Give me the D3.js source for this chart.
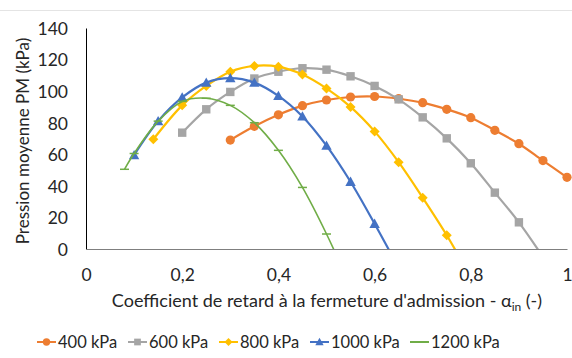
<!DOCTYPE html>
<html>
<head>
<meta charset="utf-8">
<script src="https://cdn.jsdelivr.net/npm/d3@7"></script>
<style>
  body { margin: 0; background: #fff; }
  text { font-family: Lato, "Open Sans", sans-serif; fill: #262626; }
</style>
</head>
<body>
<svg id="chart" width="572" height="358"></svg>
<script>
// valeurs (alpha_in, PM en kPa)
const x400 = [0.3, 0.35, 0.4, 0.45, 0.5, 0.55, 0.6, 0.65, 0.7, 0.75, 0.8, 0.85, 0.9, 0.95, 1.0];
const pm400 = [69, 77.7, 85, 90.8, 94.4, 96.3, 96.6, 95.2, 92.7, 88.5, 83.2, 75.2, 66.7, 56, 45.4];

const x600 = [0.2, 0.25, 0.3, 0.35, 0.4, 0.45, 0.5, 0.55, 0.6, 0.65, 0.7, 0.75, 0.8, 0.85, 0.9, 0.95];
const pm600 = [73.7, 88.5, 99.5, 108, 112.3, 114.5, 113.6, 109.4, 103.3, 94.8, 83.4, 70.1, 54.3, 35.7, 16.9, -5];

const x800 = [0.14, 0.2, 0.25, 0.3, 0.35, 0.4, 0.45, 0.5, 0.55, 0.6, 0.65, 0.7, 0.75, 0.8];
const pm800 = [69.5, 91, 103.3, 112.3, 116, 115.5, 110.5, 101.7, 90, 74.5, 55, 32.5, 8.7, -18];

const x1000 = [0.1, 0.15, 0.2, 0.25, 0.3, 0.35, 0.4, 0.45, 0.5, 0.55, 0.6, 0.65];
const pm1000 = [59.5, 81, 96, 105.4, 108.2, 105.4, 97, 84, 65.5, 42.6, 16, -12];

const x1200 = [0.08, 0.1, 0.15, 0.2, 0.25, 0.3, 0.35, 0.4, 0.45, 0.5, 0.55];
const pm1200 = [50.5, 60.5, 81, 93.5, 95.5, 91, 80, 62.5, 39, 9.5, -24];

const xTicks = [0, 0.2, 0.4, 0.6, 0.8, 1];
const yTicks = [0, 20, 40, 60, 80, 100, 120, 140];

const series = [
  { name: "400 kPa", xs: x400, ys: pm400, color: "#ED7D31", marker: "circle" },
  { name: "600 kPa", xs: x600, ys: pm600, color: "#A5A5A5", marker: "square" },
  { name: "800 kPa", xs: x800, ys: pm800, color: "#FFC000", marker: "diamond" },
  { name: "1000 kPa", xs: x1000, ys: pm1000, color: "#4472C4", marker: "triangle" },
  { name: "1200 kPa", xs: x1200, ys: pm1200, color: "#70AD47", marker: "dash" }
];

const svg = d3.select("#chart");
const x = d3.scaleLinear().domain([0, 1]).range([86, 567]);
const y = d3.scaleLinear().domain([0, 140]).range([249, 28]);

// trait gris en haut
svg.append("line").attr("x1", 0).attr("x2", 572).attr("y1", 10.5).attr("y2", 10.5)
  .attr("stroke", "#e4e4e4").attr("stroke-width", 1);

svg.append("clipPath").attr("id", "plotclip")
  .append("rect").attr("x", 0).attr("y", 0).attr("width", 572).attr("height", y(0));

// axes
const yAxis = svg.append("g").attr("transform", `translate(${x(0)},0)`)
  .call(d3.axisLeft(y).tickValues(yTicks).tickSize(0).tickPadding(18));
yAxis.select(".domain").attr("stroke", "#000").attr("stroke-width", 1);
yAxis.selectAll("text").style("font-size", "17.5px").attr("dy", "0.36em");

const xAxis = svg.append("g").attr("transform", `translate(0,${y(0)})`)
  .call(d3.axisBottom(x).tickValues(xTicks).tickSize(0).tickPadding(20)
    .tickFormat(d => String(d).replace(".", ",")));
xAxis.select(".domain").attr("stroke", "#7f7f7f").attr("stroke-width", 1.2);
xAxis.selectAll("text").style("font-size", "17.5px").attr("dy", "0.71em");
svg.selectAll(".tick text").style("fill", "#262626");

// courbes
const line = d3.line().x(d => x(d[0])).y(d => y(d[1])).curve(d3.curveCatmullRom.alpha(0.5));

function drawMarker(g, type, color, cx, cy, s) {
  if (type === "circle") {
    g.append("circle").attr("cx", cx).attr("cy", cy).attr("r", 4.6 * s).attr("fill", color);
  } else if (type === "square") {
    g.append("rect").attr("x", cx - 4.2 * s).attr("y", cy - 4.2 * s)
      .attr("width", 8.4 * s).attr("height", 8.4 * s).attr("fill", color);
  } else if (type === "diamond") {
    const r = 5 * s;
    g.append("path").attr("d", `M${cx},${cy - r}L${cx + r},${cy}L${cx},${cy + r}L${cx - r},${cy}Z`).attr("fill", color);
  } else if (type === "triangle") {
    const r = 5.2 * s;
    g.append("path").attr("d", `M${cx},${cy - r}L${cx + r},${cy + r * 0.8}L${cx - r},${cy + r * 0.8}Z`).attr("fill", color);
  } else if (type === "dash") {
    g.append("line").attr("x1", cx - 4.5 * s).attr("x2", cx + 4.5 * s).attr("y1", cy).attr("y2", cy)
      .attr("stroke", color).attr("stroke-width", 1.5);
  }
}

series.forEach(s => {
  const pts = s.xs.map((v, i) => [v, s.ys[i]]);
  svg.append("path").datum(pts).attr("d", line)
    .attr("fill", "none").attr("stroke", s.color)
    .attr("stroke-width", s.marker === "dash" ? 1.6 : 2.2)
    .attr("clip-path", "url(#plotclip)");
  const g = svg.append("g");
  pts.filter(p => p[1] >= 0).forEach(p => drawMarker(g, s.marker, s.color, x(p[0]), y(p[1]), 1));
});

// titres
const xt = svg.append("text").attr("x", 327).attr("y", 307).attr("text-anchor", "middle")
  .style("font-size", "18px");
xt.append("tspan").text("Coefficient de retard à la fermeture d'admission - α");
xt.append("tspan").text("in").style("font-size", "12px").attr("dy", 4);
xt.append("tspan").text(" (-)").attr("dy", -4).style("font-size", "18px");

svg.append("text").attr("transform", "translate(29,141) rotate(-90)")
  .attr("text-anchor", "middle").style("font-size", "17px")
  .text("Pression moyenne PM (kPa)");

// légende
const legendX = [37, 128, 219, 310, 410];
series.forEach((s, i) => {
  const g = svg.append("g");
  const lx = legendX[i];
  g.append("line").attr("x1", lx).attr("x2", lx + 19).attr("y1", 342).attr("y2", 342)
    .attr("stroke", s.color).attr("stroke-width", 2);
  if (s.marker !== "dash") drawMarker(g, s.marker, s.color, lx + 9.5, 342, 0.8);
  g.append("text").attr("x", lx + 21).attr("y", 348).style("font-size", "16.5px").text(s.name);
});
</script>
</body>
</html>
